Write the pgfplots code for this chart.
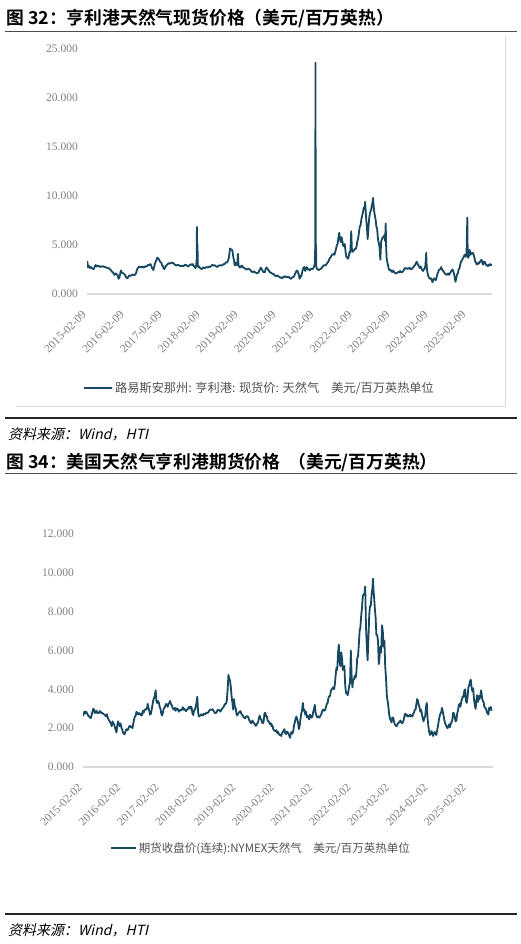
\documentclass[border=0pt]{standalone}
\usepackage{pgfplots}
\pgfplotsset{compat=1.18}
\usepackage{fontspec}
\setmainfont{Liberation Serif}
\newfontfamily\cjk{Noto Sans CJK SC}[BoldFont={Noto Sans CJK SC Bold}]
\newfontfamily\cjksl{Noto Sans CJK SC}[FakeSlant=0.22]
\definecolor{ser}{RGB}{22,72,98}
\definecolor{tickc}{RGB}{127,127,127}
\definecolor{legc}{RGB}{80,80,80}
\definecolor{axl}{RGB}{217,217,217}
\pgfplotsset{myax/.style={
  scale only axis, anchor=south west,
  axis lines*=left,
  y axis line style={draw=none},
  x axis line style={draw=axl, line width=1.5pt},
  tick style={draw=none},
  major tick length=0pt,
  ymin=0,
  yticklabel style={font=\fontsize{11.5}{12}\selectfont, text=tickc, inner sep=0pt, xshift=-9pt},
  xticklabel style={font=\fontsize{11.5}{12}\selectfont, text=tickc, rotate=45, anchor=north east, inner sep=0pt, xshift=-15pt, yshift=-7pt},
  legend style={draw=none, fill=none, font=\cjk\fontsize{12.2}{14}\selectfont, text=legc, anchor=center, inner sep=0pt},
  legend image code/.code={\draw[ser, line width=2pt] (0pt,0pt) -- (28pt,0pt);},
}}
\begin{document}
\begin{tikzpicture}[x=1pt,y=1pt]
\useasboundingbox (0,0) rectangle (521,-944);
\node[anchor=west,inner sep=0] at (6,-18) {\cjk\bfseries\fontsize{17.8}{20}\selectfont 图 32：亨利港天然气现货价格（美元/百万英热）};
\draw[line width=1pt, black!70] (5,-32) -- (517,-32);
\draw[axl, line width=0.8pt] (505,-36) -- (505,-406) -- (16,-406);
\draw[line width=1.2pt, black!85] (5,-418) -- (517,-418);
\node[anchor=west,inner sep=0] at (8,-434) {\cjksl\fontsize{14}{16}\selectfont 资料来源：Wind，HTI};
\node[anchor=west,inner sep=0] at (6,-462) {\cjk\bfseries\fontsize{17.8}{20}\selectfont 图 34：美国天然气亨利港期货价格\hspace{8pt}（美元/百万英热）};
\draw[line width=1pt, black!70] (5,-473) -- (517,-473);
\draw[line width=1.2pt, black!85] (5,-914) -- (517,-914);
\node[anchor=west,inner sep=0] at (8,-930) {\cjksl\fontsize{14}{16}\selectfont 资料来源：Wind，HTI};

\begin{axis}[myax, at={(87pt,-294pt)}, width=405pt, height=245pt,
  xmin=1.27, xmax=129.3, ymax=25,
  ytick={0,5,10,15,20,25}, yticklabels={0.000,5.000,10.000,15.000,20.000,25.000},
  xtick={1.27,13.27,25.27,37.27,49.27,61.27,73.27,85.27,97.27,109.27,121.27},
  xticklabels={2015-02-09,2016-02-09,2017-02-09,2018-02-09,2019-02-09,2020-02-09,2021-02-09,2022-02-09,2023-02-09,2024-02-09,2025-02-09},
  legend style={at={(0.426,-0.384)}}]
\addplot[ser, line width=1.8pt, line join=round, mark=none] table {
1.27 3.05
1.40 3.30
1.55 2.70
1.75 2.90
2.00 2.80
2.25 2.65
2.50 2.75
2.75 2.65
3.00 2.60
3.25 2.55
3.50 2.60
3.75 2.85
4.00 2.95
4.25 2.85
4.50 2.80
4.75 2.90
5.00 2.80
5.25 2.85
5.50 2.75
5.75 2.80
6.00 2.80
6.25 2.85
6.50 2.80
6.75 2.75
7.00 2.75
7.25 2.70
7.50 2.70
7.75 2.65
8.00 2.65
8.25 2.60
8.50 2.55
8.75 2.45
9.00 2.35
9.25 2.25
9.50 2.20
9.75 2.05
10.00 1.95
10.25 2.10
10.50 2.05
10.75 2.00
11.00 1.85
11.25 1.55
11.50 1.70
11.75 2.05
12.00 2.40
12.25 2.20
12.50 2.15
12.75 2.10
13.00 2.05
13.25 1.95
13.50 1.80
13.75 1.65
14.00 1.60
14.25 1.70
14.50 1.85
14.75 1.90
15.00 1.85
15.25 1.90
15.50 1.95
15.75 2.00
16.00 1.95
16.25 1.90
16.50 2.00
16.75 2.10
17.00 2.40
17.25 2.60
17.50 2.70
17.75 2.80
18.00 2.75
18.25 2.75
18.50 2.70
18.75 2.80
19.00 2.75
19.25 2.70
19.50 2.75
19.75 2.85
20.00 2.80
20.25 2.85
20.50 2.95
20.75 2.95
21.00 2.95
21.25 3.05
21.50 2.95
21.75 2.70
22.00 2.55
22.25 2.45
22.50 2.80
22.75 3.10
23.00 3.30
23.25 3.50
23.50 3.70
23.75 3.65
24.00 3.55
24.25 3.35
24.50 3.25
24.75 3.20
25.00 2.95
25.25 2.85
25.50 2.60
25.75 2.55
26.00 2.70
26.25 2.90
26.50 2.95
26.75 3.05
27.00 3.10
27.25 3.15
27.50 3.10
27.75 3.15
28.00 3.20
28.25 3.20
28.50 3.15
28.75 3.10
29.00 3.00
29.25 2.95
29.50 2.90
29.75 2.95
30.00 2.95
30.25 2.95
30.50 2.90
30.75 2.85
31.00 2.85
31.25 2.90
31.50 2.85
31.75 2.85
32.00 2.90
32.25 3.00
32.50 2.95
32.75 2.95
33.00 2.85
33.25 2.80
33.50 2.90
33.75 2.95
34.00 3.00
34.25 3.05
34.50 2.95
34.75 3.05
35.00 2.85
35.25 2.80
35.50 2.65
35.75 2.80
35.95 3.50
36.02 6.85
36.10 3.10
36.20 5.10
36.30 2.90
36.50 2.75
36.75 2.80
37.00 2.65
37.25 2.60
37.50 2.55
37.75 2.60
38.00 2.70
38.25 2.70
38.50 2.65
38.75 2.70
39.00 2.75
39.25 2.70
39.50 2.75
39.75 2.80
40.00 2.75
40.25 2.80
40.50 2.85
40.75 2.95
41.00 2.95
41.25 2.90
41.50 2.95
41.75 2.90
42.00 2.85
42.25 2.80
42.50 2.75
42.75 2.85
43.00 2.90
43.25 2.95
43.50 2.90
43.75 2.95
44.00 2.90
44.25 3.00
44.50 3.05
44.75 3.05
45.00 3.15
45.25 3.25
45.50 3.20
45.75 3.35
46.00 3.55
46.25 4.00
46.50 4.65
46.75 4.55
47.00 4.55
47.25 4.40
47.50 3.80
47.75 3.40
48.00 2.90
48.25 3.20
48.50 3.00
48.75 2.95
49.00 4.10
49.15 2.95
49.40 2.75
49.75 2.70
50.00 2.85
50.25 2.90
50.50 2.75
50.75 2.70
51.00 2.65
51.25 2.60
51.50 2.55
51.75 2.50
52.00 2.55
52.25 2.60
52.50 2.55
52.75 2.50
53.00 2.40
53.25 2.30
53.50 2.25
53.75 2.25
54.00 2.30
54.25 2.25
54.50 2.20
54.75 2.15
55.00 2.10
55.25 2.15
55.50 2.20
55.75 2.40
56.00 2.55
56.25 2.70
56.50 2.50
56.75 2.40
57.00 2.25
57.25 2.20
57.50 2.25
57.75 2.55
58.00 2.70
58.25 2.60
58.50 2.50
58.75 2.40
59.00 2.25
59.25 2.20
59.50 2.15
59.75 2.10
60.00 2.05
60.25 2.05
60.50 1.95
60.75 1.85
61.00 1.85
61.25 1.85
61.50 1.90
61.75 1.80
62.00 1.75
62.25 1.70
62.50 1.65
62.75 1.70
63.00 1.60
63.25 1.70
63.50 1.75
63.75 1.80
64.00 1.80
64.25 1.70
64.50 1.70
64.75 1.75
65.00 1.75
65.25 1.65
65.50 1.60
65.75 1.55
66.00 1.65
66.25 1.70
66.50 1.75
66.75 1.80
67.00 2.05
67.25 2.20
67.50 2.35
67.75 2.40
68.00 2.20
68.25 1.95
68.50 1.55
68.75 1.85
69.00 1.80
69.25 2.15
69.50 2.50
69.75 2.70
70.00 2.75
70.25 2.35
70.50 2.60
70.75 2.75
71.00 2.50
71.25 2.55
71.50 2.50
71.75 2.40
72.00 2.55
72.25 2.60
72.50 2.55
72.75 2.60
73.00 2.75
73.25 3.05
73.42 4.80
73.50 23.60
73.58 3.50
73.66 5.00
73.75 2.80
74.00 2.55
74.25 2.50
74.50 2.45
74.75 2.50
75.00 2.55
75.25 2.60
75.50 2.65
75.75 2.80
76.00 2.90
76.25 2.95
76.50 2.90
76.75 2.95
77.00 3.05
77.25 3.20
77.50 3.25
77.75 3.45
78.00 3.65
78.25 3.70
78.50 3.90
78.75 4.00
79.00 4.05
79.25 4.10
79.50 4.00
79.75 4.30
80.00 4.60
80.25 5.00
80.50 5.10
80.75 5.75
81.00 6.25
81.25 5.60
81.50 5.30
81.75 5.80
82.00 5.40
82.25 4.90
82.50 5.00
82.75 5.10
83.00 4.30
83.25 3.80
83.50 3.70
83.75 3.60
84.00 3.80
84.25 4.30
84.50 4.20
84.80 6.40
85.00 4.60
85.25 4.30
85.50 4.40
85.75 4.50
86.00 4.60
86.25 4.60
86.50 4.90
86.75 5.40
87.00 5.70
87.25 6.30
87.50 6.90
87.75 7.00
88.00 7.60
88.25 8.00
88.50 8.30
88.75 8.80
89.00 8.70
89.20 9.40
89.50 7.80
89.75 6.80
90.00 5.60
90.25 6.80
90.50 7.80
90.75 8.30
91.00 8.50
91.25 8.90
91.50 9.30
91.70 9.80
91.85 9.10
92.00 8.60
92.25 8.00
92.50 7.60
92.75 6.90
93.00 6.60
93.25 5.60
93.50 5.20
93.75 4.80
94.00 3.50
94.25 5.30
94.50 5.60
94.75 5.80
95.00 5.80
95.25 6.00
95.50 5.40
95.70 7.20
95.85 4.60
96.00 3.60
96.25 3.20
96.50 2.80
96.75 2.50
97.00 2.40
97.25 2.45
97.50 2.30
97.75 2.25
98.00 2.40
98.25 2.30
98.50 2.20
98.75 2.10
99.00 2.10
99.25 2.15
99.50 2.20
99.75 2.25
100.00 2.20
100.25 2.35
100.50 2.25
100.75 2.20
101.00 2.25
101.25 2.35
101.50 2.50
101.75 2.65
102.00 2.60
102.25 2.65
102.50 2.55
102.75 2.60
103.00 2.60
103.25 2.70
103.50 2.55
103.75 2.60
104.00 2.55
104.25 2.70
104.50 2.75
104.75 2.90
105.00 2.95
105.25 3.15
105.50 3.30
105.75 3.10
106.00 2.95
106.25 2.80
106.50 2.65
106.75 2.80
107.00 2.60
107.25 2.45
107.50 2.35
107.75 2.50
108.00 2.60
108.25 2.90
108.50 4.20
108.65 2.80
108.80 2.40
109.00 2.00
109.25 1.75
109.50 1.60
109.75 1.55
110.00 1.60
110.25 1.40
110.50 1.20
110.75 1.50
111.00 1.60
111.25 1.55
111.50 1.40
111.75 1.65
112.00 2.00
112.25 2.20
112.50 2.45
112.75 2.50
113.00 2.55
113.25 2.75
113.50 2.50
113.75 2.40
114.00 2.30
114.25 2.15
114.50 2.05
114.75 2.00
115.00 1.95
115.25 2.05
115.50 2.10
115.75 1.95
116.00 2.10
116.25 2.25
116.50 2.35
116.75 2.50
117.00 2.40
117.25 2.10
117.50 1.70
117.75 1.25
118.00 1.60
118.25 2.00
118.50 2.10
118.75 2.50
119.00 2.60
119.25 3.00
119.50 3.30
119.75 3.40
120.00 3.60
120.25 3.70
120.50 3.90
120.75 4.00
121.00 3.80
121.25 4.20
121.50 7.80
121.60 4.50
121.75 3.70
122.00 3.90
122.25 4.50
122.50 4.00
122.75 4.20
123.00 4.10
123.25 4.20
123.50 4.00
123.75 3.70
124.00 3.30
124.25 3.20
124.50 3.00
124.75 3.10
125.00 3.20
125.25 3.10
125.50 3.30
125.75 3.40
126.00 3.50
126.25 3.20
126.50 3.00
126.75 3.30
127.00 3.30
127.25 3.10
127.50 2.95
127.75 2.90
128.00 2.85
128.25 3.00
128.50 2.90
128.75 3.05
129.00 2.95
129.20 3.05
};
\addlegendentry{路易斯安那州: 亨利港: 现货价: 天然气\quad 美元/百万英热单位}
\end{axis}

\begin{axis}[myax, at={(83pt,-767pt)}, width=410pt, height=233pt,
  xmin=1.03, xmax=129.2, ymax=12,
  ytick={0,2,4,6,8,10,12}, yticklabels={0.000,2.000,4.000,6.000,8.000,10.000,12.000},
  xtick={1.03,13.03,25.03,37.03,49.03,61.03,73.03,85.03,97.03,109.03,121.03},
  xticklabels={2015-02-02,2016-02-02,2017-02-02,2018-02-02,2019-02-02,2020-02-02,2021-02-02,2022-02-02,2023-02-02,2024-02-02,2025-02-02},
  legend style={at={(0.434,-0.348)}, font=\cjk\fontsize{11.5}{13}\selectfont},
  legend image code/.code={\draw[ser, line width=2pt] (0pt,0pt) -- (25pt,0pt);}]
\addplot[ser, line width=1.8pt, line join=round, mark=none] table {
1.03 2.63
1.25 2.75
1.50 2.86
1.75 2.75
2.00 2.85
2.25 2.78
2.50 2.70
2.75 2.62
3.00 2.60
3.25 2.55
3.50 2.52
3.75 2.70
4.00 2.85
4.25 3.00
4.50 2.95
4.75 2.78
5.00 2.82
5.25 2.90
5.50 2.78
5.75 2.80
6.00 2.78
6.25 2.88
6.50 2.85
6.75 2.78
7.00 2.80
7.25 2.75
7.50 2.72
7.75 2.70
8.00 2.65
8.25 2.60
8.50 2.72
8.75 2.55
9.00 2.45
9.25 2.38
9.50 2.30
9.75 2.25
10.00 2.10
10.25 2.35
10.50 2.25
10.75 2.20
11.00 2.05
11.25 1.90
11.50 1.78
11.75 2.15
12.00 2.35
12.25 2.20
12.50 2.10
12.75 2.25
13.00 2.05
13.25 1.95
13.50 1.80
13.75 1.72
14.00 1.68
14.25 1.80
14.50 1.92
14.75 1.95
15.00 1.90
15.25 2.00
15.50 2.10
15.75 2.12
16.00 2.05
16.25 2.08
16.50 2.00
16.75 2.25
17.00 2.45
17.25 2.60
17.50 2.65
17.75 2.85
18.00 2.75
18.25 2.70
18.50 2.78
18.75 2.72
19.00 2.75
19.25 2.65
19.50 2.68
19.75 2.90
20.00 2.80
20.25 2.92
20.50 2.98
20.75 2.95
21.00 3.00
21.25 3.25
21.50 3.05
21.75 2.90
22.00 2.70
22.25 2.75
22.50 2.95
22.75 3.20
23.00 3.45
23.25 3.55
23.50 3.70
23.75 3.95
24.00 3.35
24.25 3.30
24.50 3.40
24.75 3.30
25.00 3.10
25.25 3.00
25.50 2.75
25.75 2.65
26.00 2.80
26.25 3.00
26.50 3.05
26.75 3.15
27.00 3.25
27.25 3.20
27.50 3.10
27.75 3.25
28.00 3.30
28.25 3.40
28.50 3.25
28.75 3.20
29.00 3.05
29.25 3.00
29.50 2.95
29.75 3.05
30.00 2.90
30.25 3.00
30.50 3.02
30.75 2.95
31.00 2.85
31.25 2.90
31.50 2.95
31.75 2.92
32.00 2.98
32.25 3.08
32.50 2.95
32.75 3.00
33.00 2.92
33.25 2.88
33.50 2.95
33.75 2.98
34.00 3.05
34.25 3.10
34.50 3.00
34.75 3.12
35.00 3.05
35.25 2.75
35.50 2.68
35.75 2.90
36.00 2.95
36.25 3.10
36.50 3.30
36.75 3.62
37.00 2.85
37.25 2.60
37.50 2.65
37.75 2.65
38.00 2.72
38.25 2.68
38.50 2.65
38.75 2.72
39.00 2.75
39.25 2.72
39.50 2.78
39.75 2.80
40.00 2.78
40.25 2.82
40.50 2.90
40.75 2.95
41.00 2.95
41.25 2.95
41.50 2.98
41.75 2.92
42.00 2.85
42.25 2.78
42.50 2.78
42.75 2.80
43.00 2.90
43.25 2.95
43.50 2.92
43.75 2.92
44.00 2.85
44.25 2.95
44.50 3.00
44.75 3.05
45.00 3.10
45.25 3.20
45.50 3.25
45.75 3.25
46.00 3.45
46.25 4.00
46.50 4.75
46.75 4.55
47.00 4.45
47.25 4.10
47.50 3.60
47.75 3.30
48.00 2.95
48.25 3.50
48.50 3.10
48.75 3.05
49.00 2.75
49.25 2.65
49.50 2.75
49.75 2.80
50.00 2.85
50.25 2.88
50.50 2.75
50.75 2.70
51.00 2.65
51.25 2.55
51.50 2.55
51.75 2.50
52.00 2.60
52.25 2.62
52.50 2.60
52.75 2.55
53.00 2.40
53.25 2.35
53.50 2.25
53.75 2.30
54.00 2.40
54.25 2.30
54.50 2.25
54.75 2.20
55.00 2.12
55.25 2.15
55.50 2.25
55.75 2.30
56.00 2.50
56.25 2.65
56.50 2.50
56.75 2.45
57.00 2.30
57.25 2.25
57.50 2.35
57.75 2.75
58.00 2.80
58.25 2.62
58.50 2.60
58.75 2.40
59.00 2.35
59.25 2.30
59.50 2.20
59.75 2.25
60.00 2.10
60.25 2.15
60.50 1.95
60.75 1.90
61.00 1.85
61.25 1.85
61.50 1.90
61.75 1.75
62.00 1.80
62.25 1.70
62.50 1.65
62.75 1.65
63.00 1.60
63.25 1.75
63.50 1.80
63.75 1.88
64.00 1.95
64.25 1.75
64.50 1.70
64.75 1.82
65.00 1.80
65.25 1.70
65.50 1.62
65.75 1.50
66.00 1.75
66.25 1.80
66.50 1.72
66.75 1.85
67.00 2.15
67.25 2.30
67.50 2.50
67.75 2.60
68.00 2.45
68.25 2.30
68.50 1.95
68.75 2.10
69.00 2.45
69.25 2.75
69.50 2.90
69.75 3.30
70.00 2.90
70.25 2.95
70.50 2.70
70.75 2.85
71.00 2.55
71.25 2.65
71.50 2.58
71.75 2.45
72.00 2.70
72.25 2.60
72.50 2.55
72.75 2.60
73.00 2.85
73.25 3.00
73.50 3.20
73.75 2.80
74.00 2.65
74.25 2.55
74.50 2.60
74.75 2.55
75.00 2.55
75.25 2.65
75.50 2.70
75.75 2.85
76.00 2.95
76.25 2.95
76.50 2.90
76.75 2.95
77.00 3.10
77.25 3.25
77.50 3.30
77.75 3.55
78.00 3.65
78.25 3.65
78.50 3.90
78.75 4.00
79.00 4.05
79.25 4.10
79.50 4.00
79.75 4.25
80.00 4.70
80.25 5.10
80.50 5.00
80.75 5.85
81.00 6.30
81.25 5.40
81.50 5.20
81.75 5.90
82.00 5.60
82.25 5.00
82.50 5.10
82.75 5.20
83.00 4.20
83.25 3.80
83.50 3.85
83.75 3.70
84.00 3.90
84.25 4.20
84.50 4.30
84.75 6.00
85.00 4.70
85.25 4.10
85.50 4.50
85.75 4.50
86.00 4.70
86.25 4.60
86.50 4.90
86.75 5.60
87.00 5.70
87.25 6.30
87.50 7.00
87.75 7.20
88.00 7.80
88.25 8.20
88.50 8.80
88.75 8.90
89.00 8.90
89.25 9.30
89.50 7.20
89.75 6.20
90.00 5.50
90.25 6.60
90.50 7.80
90.75 8.30
91.00 8.30
91.25 8.90
91.50 9.20
91.70 9.70
91.85 9.10
92.00 8.80
92.25 8.20
92.50 7.70
92.75 6.80
93.00 6.80
93.25 6.50
93.50 5.30
93.75 5.70
94.00 6.20
94.25 5.90
94.50 7.30
94.75 7.00
95.00 6.20
95.25 6.50
95.50 5.20
95.75 4.60
96.00 3.70
96.25 3.40
96.50 3.10
96.75 2.70
97.00 2.50
97.25 2.40
97.50 2.30
97.75 2.55
98.00 2.55
98.25 2.35
98.50 2.20
98.75 2.15
99.00 2.10
99.25 2.15
99.50 2.25
99.75 2.30
100.00 2.30
100.25 2.40
100.50 2.30
100.75 2.25
101.00 2.30
101.25 2.40
101.50 2.60
101.75 2.75
102.00 2.65
102.25 2.70
102.50 2.60
102.75 2.60
103.00 2.65
103.25 2.70
103.50 2.60
103.75 2.65
104.00 2.60
104.25 2.75
104.50 2.80
104.75 2.95
105.00 2.95
105.25 3.25
105.50 3.50
105.75 3.40
106.00 3.20
106.25 3.05
106.50 2.85
106.75 2.95
107.00 2.70
107.25 2.50
107.50 2.35
107.75 2.55
108.00 2.60
108.25 3.10
108.50 3.30
108.75 2.50
109.00 2.10
109.25 1.80
109.50 1.65
109.75 1.75
110.00 1.85
110.25 1.70
110.50 1.60
110.75 1.75
111.00 1.80
111.25 1.70
111.50 1.65
111.75 1.90
112.00 2.10
112.25 2.40
112.50 2.60
112.75 2.75
113.00 2.80
113.25 3.05
113.50 2.85
113.75 2.65
114.00 2.40
114.25 2.25
114.50 2.15
114.75 2.05
115.00 2.00
115.25 2.10
115.50 2.20
115.75 2.05
116.00 2.25
116.25 2.30
116.50 2.45
116.75 2.80
117.00 2.75
117.25 2.55
117.50 2.35
117.75 2.40
118.00 2.75
118.25 2.90
118.50 3.20
118.75 3.25
119.00 3.10
119.25 3.35
119.50 3.50
119.75 3.65
120.00 3.60
120.25 3.95
120.50 4.00
120.75 3.40
121.00 3.30
121.25 3.60
121.50 4.10
121.75 4.20
122.00 4.40
122.25 4.50
122.50 4.10
122.75 3.90
123.00 4.05
123.25 3.50
123.50 3.20
123.75 3.00
124.00 3.40
124.25 3.70
124.50 3.35
124.75 3.65
125.00 3.50
125.25 3.70
125.50 3.95
125.75 3.60
126.00 3.40
126.25 3.35
126.50 3.10
126.75 3.05
127.00 3.00
127.25 2.85
127.50 2.75
127.75 2.70
128.00 3.05
128.25 2.95
128.50 3.10
128.75 2.90
};
\addlegendentry{期货收盘价(连续):NYMEX天然气\quad 美元/百万英热单位}
\end{axis}
\end{tikzpicture}
\end{document}
